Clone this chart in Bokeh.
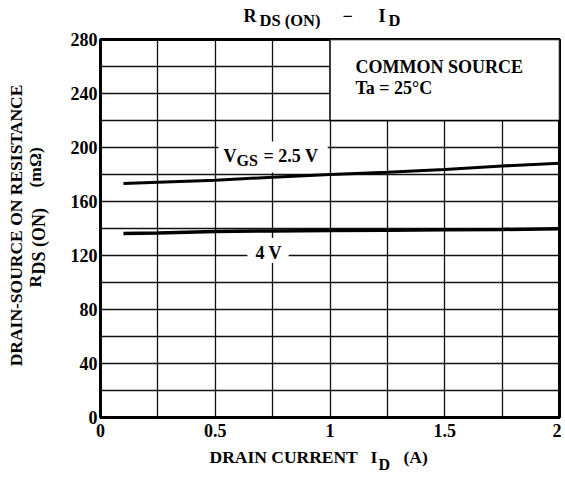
import math
from bokeh.plotting import figure
from bokeh.models import FixedTicker, SingleIntervalTicker, Label, BoxAnnotation, Range1d
from bokeh.layouts import row, column
from bokeh.embed import file_html
from bokeh.resources import INLINE

# ---- data ----
drain_current = [0.1, 0.25, 0.5, 0.75, 1.0, 1.25, 1.5, 1.75, 2.0]          # I_D (A)
rds_vgs_2p5 = [173.3, 174.3, 175.8, 178.0, 180.0, 181.7, 183.7, 186.3, 188.3]  # mOhm
rds_vgs_4 = [136.3, 136.6, 137.8, 138.2, 138.5, 138.7, 139.0, 139.3, 139.8]    # mOhm

x_ticks = [0, 0.5, 1, 1.5, 2]
x_tick_labels = ["0", "0.5", "1", "1.5", "2"]
y_ticks = [0, 40, 80, 120, 160, 200, 240, 280]
y_tick_labels = ["0", "40", "80", "120", "160", "200", "240", "280"]

FONT = "Liberation Serif"


def no_align(f):
    if "frame_align" in f.properties():
        f.frame_align = False
    return f


def add_label(fig, x, y, text, size="18px", angle=0.0, align="left", baseline="middle"):
    fig.add_layout(Label(x=x, y=y, text=text, text_font=FONT, text_font_style="bold",
                         text_font_size=size, text_color="black", angle=angle,
                         text_align=align, text_baseline=baseline))


def text_panel(w, h, x_range, left=0, right=0):
    f = figure(width=w, height=h, x_range=x_range, y_range=Range1d(0, h), title=None,
               x_axis_type=None, y_axis_type=None, output_backend="svg",
               toolbar_location=None, min_border_left=left, min_border_right=right,
               min_border_top=0, min_border_bottom=0)
    f.outline_line_color = None
    f.background_fill_color = "white"
    f.border_fill_color = "white"
    f.grid.visible = False
    return no_align(f)


# ---- main chart ----
p = figure(width=511, height=416, x_range=Range1d(0, 2), y_range=Range1d(0, 280), title=None,
           output_backend="svg", toolbar_location=None,
           min_border_left=50, min_border_right=2, min_border_top=10, min_border_bottom=28)
no_align(p)

p.background_fill_color = "white"
p.border_fill_color = "white"
p.outline_line_color = "black"
p.outline_line_width = 3

for ax in (p.xaxis[0], p.yaxis[0]):
    ax.axis_line_color = None
    ax.major_tick_line_color = None
    ax.minor_tick_line_color = None
    ax.major_tick_out = 0
    ax.major_tick_in = 0
    ax.minor_tick_out = 0
    ax.minor_tick_in = 0
    ax.major_label_text_font = FONT
    ax.major_label_text_font_style = "bold"
    ax.major_label_text_font_size = "18px"
    ax.major_label_text_color = "black"

p.xaxis.ticker = FixedTicker(ticks=x_ticks)
p.xaxis.major_label_overrides = {t: l for t, l in zip(x_ticks, x_tick_labels)}
p.xaxis.major_label_standoff = 6
p.yaxis.ticker = FixedTicker(ticks=y_ticks)
p.yaxis.major_label_overrides = {t: l for t, l in zip(y_ticks, y_tick_labels)}
p.yaxis.major_label_standoff = 3

p.xgrid.ticker = SingleIntervalTicker(interval=0.25)
p.ygrid.ticker = SingleIntervalTicker(interval=20)
for g in (p.xgrid[0], p.ygrid[0]):
    g.grid_line_color = "#111111"
    g.grid_line_width = 1.3
    g.grid_line_alpha = 1.0

p.line(drain_current, rds_vgs_2p5, line_color="black", line_width=3)
p.line(drain_current, rds_vgs_4, line_color="black", line_width=3.5)

# white box with condition text
p.add_layout(BoxAnnotation(left=1, right=2, bottom=220, top=280, fill_color="white",
                           fill_alpha=1.0, line_color="black", line_width=1.5, line_alpha=1.0))
# white backgrounds behind curve labels
p.add_layout(BoxAnnotation(left=0.514, right=0.99, bottom=181.5, top=204.5, fill_color="white",
                           fill_alpha=1.0, line_color=None))
p.add_layout(BoxAnnotation(left=0.64, right=0.82, bottom=114.5, top=133, fill_color="white",
                           fill_alpha=1.0, line_color=None))

# curve labels
add_label(p, 0.536, 193.7, "V", "18px")
add_label(p, 0.593, 190.7, "GS", "16px")
add_label(p, 0.710, 193.7, "= 2.5 V", "18px")
add_label(p, 0.675, 121.9, "4 V", "18px")

# condition text
add_label(p, 1.111, 259.6, "COMMON SOURCE", "18px")
add_label(p, 1.111, 244.1, "Ta = 25\u00b0C", "18px")

# ---- title panel:  R_DS(ON) - I_D  (same horizontal borders as the chart) ----
title_fig = text_panel(511, 29, Range1d(0, 2), left=50, right=2)
add_label(title_fig, 0.623, 14, "R", "18px")
add_label(title_fig, 0.693, 9, "DS (ON)", "16.5px")
add_label(title_fig, 1.054, 14, "\u2212", "18px")
add_label(title_fig, 1.211, 14, "I", "18px")
add_label(title_fig, 1.255, 9, "D", "16.5px")

# ---- x axis title panel ----
xlab_fig = text_panel(511, 35, Range1d(0, 2), left=50, right=2)
add_label(xlab_fig, 0.475, 24, "DRAIN CURRENT", "17.5px")
add_label(xlab_fig, 1.176, 24, "I", "17.5px")
add_label(xlab_fig, 1.211, 16, "D", "16px")
add_label(xlab_fig, 1.320, 24, "(A)", "17.5px")

# ---- y axis title panel (rotated text) ----
half = math.pi / 2
ylab_fig = text_panel(50, 480, Range1d(0, 50))
add_label(ylab_fig, 15, 255, "DRAIN-SOURCE ON RESISTANCE", "17.5px", angle=half, align="center")
add_label(ylab_fig, 34, 193, "R", "17.5px", angle=half)
add_label(ylab_fig, 38, 206, "DS (ON)", "18px", angle=half)
add_label(ylab_fig, 34, 293, "(m\u03a9)", "17.5px", angle=half)

layout = row(ylab_fig, column(title_fig, p, xlab_fig))

open("out.html", "w").write(file_html(layout, INLINE))
